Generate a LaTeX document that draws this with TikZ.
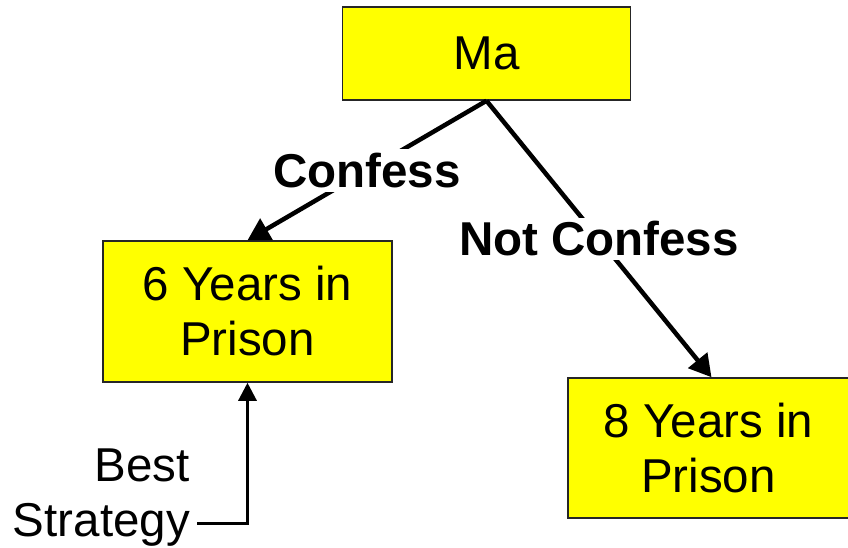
\documentclass[tikz,border=0pt]{standalone}
\usepackage{fontspec}
\setmainfont{Liberation Sans}
\usetikzlibrary{arrows.meta}
\definecolor{boxyellow}{RGB}{255,255,0}
\tikzset{
  box/.style={draw=black!85, line width=1.5pt, fill=boxyellow, align=center,
    font=\fontsize{47.5}{55}\selectfont, inner sep=0pt},
  choice/.style={line width=4.5pt, -{Triangle[length=22pt,width=24pt]}},
  lbl/.style={fill=white, font=\fontsize{47.5}{55}\selectfont\bfseries, inner sep=4pt},
  note/.style={align=right, font=\fontsize{47.5}{55}\selectfont, inner sep=0pt},
  pointer/.style={line width=3pt, -{Triangle[length=18pt,width=18pt]}}
}
\begin{document}
\begin{tikzpicture}[x=1pt,y=-1pt]
\useasboundingbox (0,0) rectangle (848,548);
\node[box, minimum width=288pt, minimum height=93pt] (ma) at (486.5,53.5) {Ma};
\node[box, minimum width=289pt, minimum height=141pt] (b6) at (247.5,311.5) {6 Years in\\Prison};
\node[box, minimum width=281pt, minimum height=140pt] (b8) at (708.5,448) {8 Years in\\Prison};
\draw[choice] (ma.south) -- (b6.north) node[lbl, midway] (lc) {Confess};
\draw[choice] (ma.south) -- ([xshift=3pt]b8.north) node[lbl, midway] (lnc) {Not Confess};
\node[note, anchor=north east] (bs) at (190,449) {Best\\Strategy};
\coordinate (bse) at (197,523);
\draw[pointer] (bse) -| (b6.south);
\end{tikzpicture}
\end{document}
